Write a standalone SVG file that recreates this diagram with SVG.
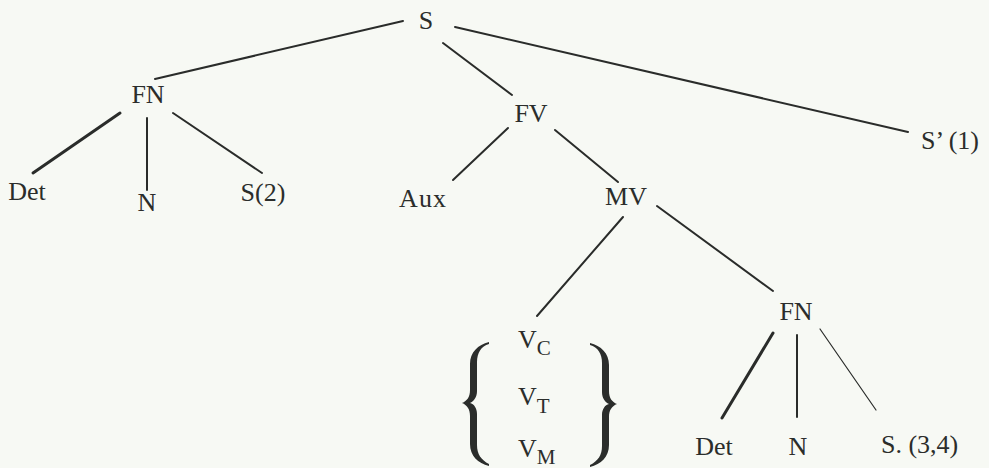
<svg xmlns="http://www.w3.org/2000/svg" xmlns:xlink="http://www.w3.org/1999/xlink" width="989" height="468" viewBox="0 0 989 468">
<style>
  .bg { fill: #f7f9f4; }
  .lbl { font-family: "Liberation Serif", "Times New Roman", serif; font-size: 26px; fill: #2b2d2b; }
  .mid { text-anchor: middle; }
  .sub { font-size: 21px; }
  .edge { stroke: #2a2c2a; stroke-width: 2; stroke-linecap: round; fill: none; }
  .thick { stroke-width: 3; }
  .thin { stroke-width: 1.2; }
  .brace { fill: #2b2d2b; }
</style>
<defs>
  <path id="brace" class="brace" d="M 489 342 C 478 345, 470 352, 470 364 L 470 390 C 470 397, 467 401, 462 403 C 467 405, 470 409, 470 416 L 470 444 C 470 456, 478 463, 489 466 L 489 464 C 481 460, 477 454, 477 445 L 477 414 C 477 408, 474 404, 470 403 C 474 401, 477 397, 477 391 L 477 362 C 477 353, 481 346, 489 344 Z"/>
</defs>
<rect class="bg" x="0" y="0" width="989" height="468"/>

<g id="connectors">
  <line class="edge" x1="403" y1="21" x2="155" y2="79"/>
  <line class="edge" x1="443" y1="43" x2="512" y2="95"/>
  <line class="edge" x1="455" y1="27" x2="908" y2="132"/>
  <line class="edge thick" x1="120" y1="113" x2="33" y2="173"/>
  <line class="edge" x1="147" y1="118" x2="147" y2="190"/>
  <line class="edge" x1="173" y1="113" x2="262" y2="173"/>
  <line class="edge" x1="508" y1="128" x2="453" y2="180"/>
  <line class="edge" x1="555" y1="130" x2="618" y2="182"/>
  <line class="edge" x1="623" y1="217" x2="537" y2="316"/>
  <line class="edge" x1="657" y1="206" x2="773" y2="291"/>
  <line class="edge thick" x1="773" y1="333" x2="722" y2="418"/>
  <line class="edge" x1="797" y1="335" x2="797" y2="417"/>
  <line class="edge thin" x1="820" y1="329" x2="876" y2="410"/>
</g>

<g id="n-S"><text class="lbl mid" x="426" y="29">S</text></g>
<g id="n-FN1"><text class="lbl mid" x="148" y="103">FN</text></g>
<g id="n-Det1"><text class="lbl mid" x="27" y="200">Det</text></g>
<g id="n-N1"><text class="lbl mid" x="147" y="211">N</text></g>
<g id="n-S2"><text class="lbl mid" x="263" y="201">S(2)</text></g>
<g id="n-FV"><text class="lbl mid" x="531" y="122">FV</text></g>
<g id="n-Aux"><text class="lbl mid" x="423" y="207" letter-spacing="1">Aux</text></g>
<g id="n-MV"><text class="lbl mid" x="626" y="205">MV</text></g>
<g id="n-S1"><text class="lbl" x="921" y="149">S’ (1)</text></g>
<g id="n-V">
  <use xlink:href="#brace"/>
  <use xlink:href="#brace" transform="translate(1079,1) scale(-1,1)"/>
  <text class="lbl" x="518" y="348">V<tspan class="sub" dy="7">C</tspan></text>
  <text class="lbl" x="518" y="405">V<tspan class="sub" dy="8">T</tspan></text>
  <text class="lbl" x="518" y="457">V<tspan class="sub" dy="7">M</tspan></text>
</g>
<g id="n-FN2"><text class="lbl mid" x="796" y="320">FN</text></g>
<g id="n-Det2"><text class="lbl mid" x="714" y="455">Det</text></g>
<g id="n-N2"><text class="lbl mid" x="798" y="455">N</text></g>
<g id="n-S34"><text class="lbl" x="881" y="453">S. (3,4)</text></g>
</svg>
